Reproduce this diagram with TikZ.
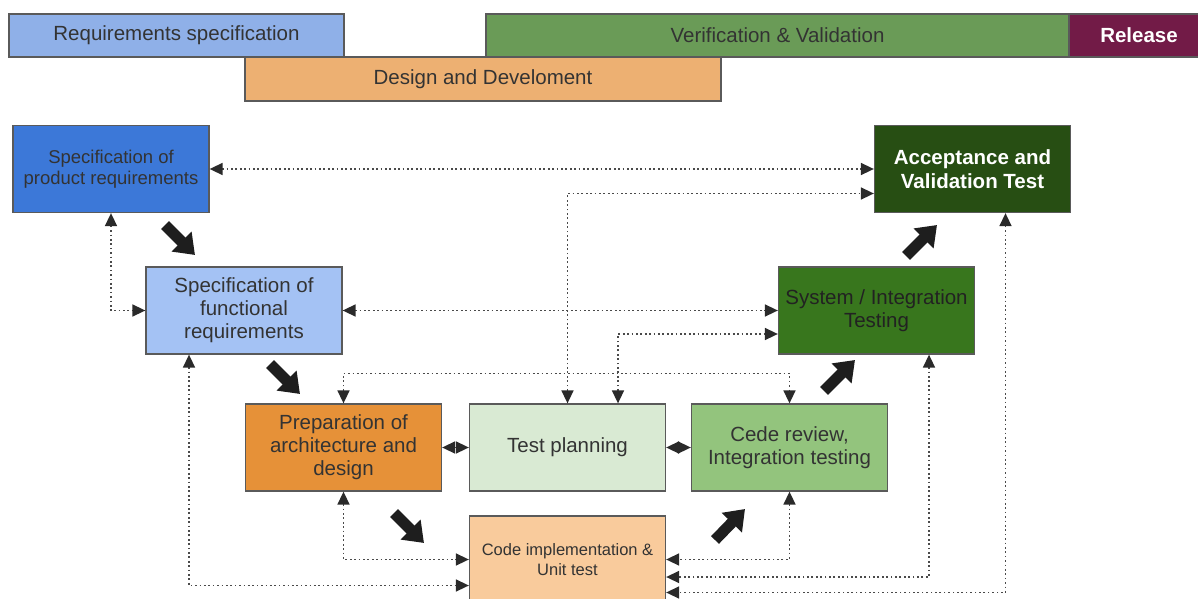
\documentclass[tikz,border=0pt]{standalone}
\usepackage{fontspec}
\setmainfont{Liberation Sans}
\usetikzlibrary{arrows.meta,calc}

\definecolor{txt}{HTML}{333333}
\definecolor{gtxt}{HTML}{222222}
\definecolor{boxline}{HTML}{5A5A5A}
\definecolor{dotc}{HTML}{4A4A4A}
\definecolor{tipc}{HTML}{2A2A2A}
\definecolor{bigc}{HTML}{1E1E1E}
\definecolor{cReq}{HTML}{8FB0E8}
\definecolor{cDes}{HTML}{EDB072}
\definecolor{cVV}{HTML}{6A9B57}
\definecolor{cRel}{HTML}{721B47}
\definecolor{cA}{HTML}{3C78D8}
\definecolor{cB}{HTML}{A4C2F4}
\definecolor{cC}{HTML}{E69138}
\definecolor{cD}{HTML}{D9EAD3}
\definecolor{cE}{HTML}{93C47D}
\definecolor{cF}{HTML}{F9CB9C}
\definecolor{cG}{HTML}{38761D}
\definecolor{cH}{HTML}{274E13}

\tikzset{
  dtip/.tip={Triangle[length=13pt,width=12pt,color=tipc]},
  bigtip/.tip={Triangle[length=19pt,width=27pt]},
  box/.style={draw=boxline, line width=1.3pt, minimum width=196pt, minimum height=87pt,
    inner sep=0pt, align=center, text=txt, font=\fontsize{20.5}{23}\selectfont},
  bar/.style={draw=boxline, line width=1.1pt, inner sep=0pt, text=txt,
    font=\fontsize{20.5}{23}\selectfont},
  dl/.style={draw=dotc, line width=1.6pt, dash pattern=on 1.7pt off 2.7pt, dtip-dtip},
  big/.style={draw=bigc, line width=11pt, -bigtip}
}

\begin{document}
\begin{tikzpicture}[x=1pt,y=-1pt]
\useasboundingbox (0,0) rectangle (1198,599);
\clip (0,0) rectangle (1198,599);
\fill[white] (0,0) rectangle (1198,599);

% phase bars
\node[bar, fill=cDes, minimum width=476pt, minimum height=44pt] (dd) at (483,79) {Design and Develoment};
\node[bar, fill=cReq, minimum width=335pt, minimum height=43pt] (rs) at (176.5,35.5) {Requirements specification};
\node[bar, fill=cVV, minimum width=583pt, minimum height=43pt] (vv) at (777.5,35.5) {Verification \& Validation};
\node[bar, fill=cRel, text=white, font=\fontsize{20.5}{23}\selectfont\bfseries,
      minimum width=140pt, minimum height=43pt] (rel) at (1139,35.5) {Release};

% process steps
\node[box, fill=cA, font=\fontsize{18.5}{21}\selectfont] (A) at (111,169) {Specification of\\product requirements};
\node[box, fill=cB] (B) at (244,310.5) {Specification of\\functional\\requirements};
\node[box, fill=cC] (C) at (343.5,447.5) {Preparation of\\architecture and\\design};
\node[box, fill=cD] (D) at (567.5,447.5) {Test planning};
\node[box, fill=cE] (E) at (789.5,447.5) {Cede review,\\Integration testing};
\node[box, fill=cF, font=\fontsize{16.5}{19.5}\selectfont] (F) at (567.5,559.5) {Code implementation \&\\Unit test};
\node[box, fill=cG, text=gtxt] (G) at (876.5,310.5) {System / Integration\\Testing};
\node[box, fill=cH, text=white, font=\fontsize{20.5}{24}\selectfont\bfseries] (H) at (972.5,169) {Acceptance and\\Validation Test};

% traceability links
\draw[dl] (A.east) -- (H.west);
\draw[dl] (D.north) |- ([yshift=-24.5pt]H.west);
\draw[dl] (B.east) -- (G.west);
\draw[dl] ([xshift=50.5pt]D.north) |- ([yshift=-23.5pt]G.west);
\draw[dl] (C.north) -- ++(0,-30) -| (E.north);
\draw[dl] (A.south) |- (B.west);
\draw[dl] ([xshift=-55pt]B.south) |- ([yshift=-26pt]F.west);
\draw[dl] (C.south) |- (F.west);
\draw[dl] (E.south) |- (F.east);
\draw[dl] ([xshift=52.5pt]G.south) |- ([yshift=-17.5pt]F.east);
\draw[dl] ([xshift=33pt]H.south) |- ([yshift=-33pt]F.east);
\draw[dl] (C.east) -- (D.west);
\draw[dl] (D.east) -- (E.west);

% main flow arrows
\coordinate (p1) at (165,225);  \coordinate (q1) at (195,255);
\coordinate (p2) at (270,364);  \coordinate (q2) at (300,394);
\coordinate (p3) at (394,513);  \coordinate (q3) at (424,543);
\coordinate (p4) at (715,540);  \coordinate (q4) at (745,509);
\coordinate (p5) at (824,391);  \coordinate (q5) at (855,360);
\coordinate (p6) at (906,256);  \coordinate (q6) at (937,225);
\foreach \i in {1,...,6} { \draw[big] (p\i) -- (q\i); }
\end{tikzpicture}
\end{document}
